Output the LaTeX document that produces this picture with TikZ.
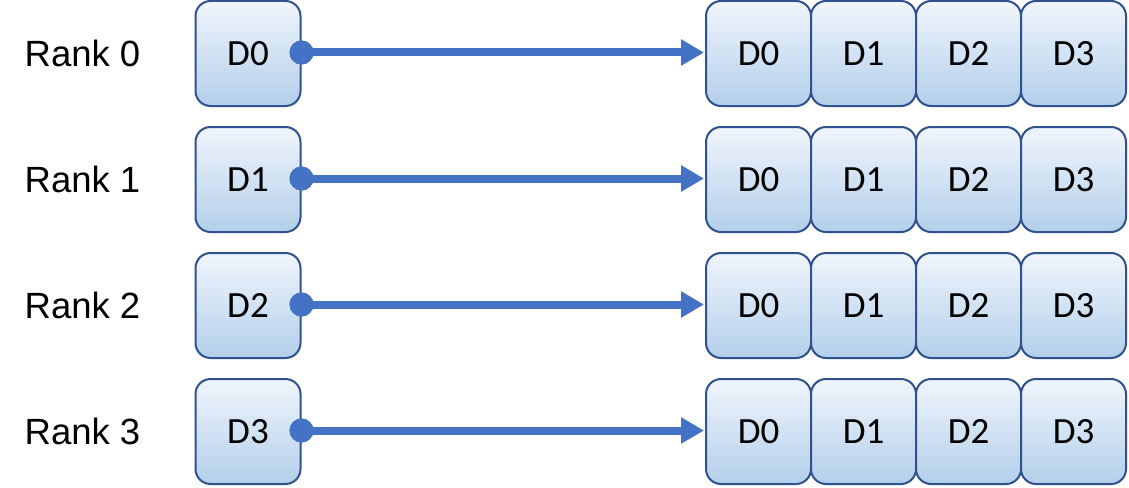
\documentclass[tikz,border=0pt]{standalone}
\usepackage{fontspec}
\setmainfont{Liberation Sans}
\newfontfamily\boxfont{Carlito}
\usetikzlibrary{arrows.meta}
\definecolor{boxtop}{HTML}{F0F5FC}
\definecolor{boxbot}{HTML}{B3CFEA}
\definecolor{boxline}{HTML}{2F528F}
\definecolor{arrowblue}{HTML}{4472C4}
\tikzset{
  databox/.style={draw=boxline, line width=2pt, rounded corners=15pt,
    top color=boxtop, bottom color=boxbot, minimum width=105pt, minimum height=105pt,
    inner sep=0pt, font=\boxfont\fontsize{37}{40}\selectfont},
  ranklabel/.style={font=\fontsize{36.5}{40}\selectfont, inner sep=0pt},
  sendarrow/.style={draw=arrowblue, line width=8pt, -{Triangle[length=23pt,width=25pt]}, shorten >=1pt},
  srcdot/.style={circle, fill=arrowblue, minimum size=24pt, inner sep=0pt}
}
\begin{document}
\begin{tikzpicture}[x=1pt,y=-1pt]
\useasboundingbox (0,0) rectangle (1129,487);
\foreach \r in {0,1,2,3}{
  \pgfmathsetmacro{\yc}{53.5+126*\r}
  \node[ranklabel] (rank\r) at (82.5,\yc) {Rank \r};
  \node[databox] (src\r) at (248,\yc) {D\r};
  \foreach \k in {0,1,2,3}{
    \node[databox] (dst\r\k) at ({758.5+105*\k},\yc) {D\k};
  }
  \node[srcdot] (dot\r) at ([yshift=1pt]src\r.east) {};
  \coordinate (tgt\r) at ([yshift=1pt]dst\r0.west);
  \draw[sendarrow] (dot\r.center) -- (tgt\r);
  \node[srcdot] at (dot\r) {};
}
\end{tikzpicture}
\end{document}
